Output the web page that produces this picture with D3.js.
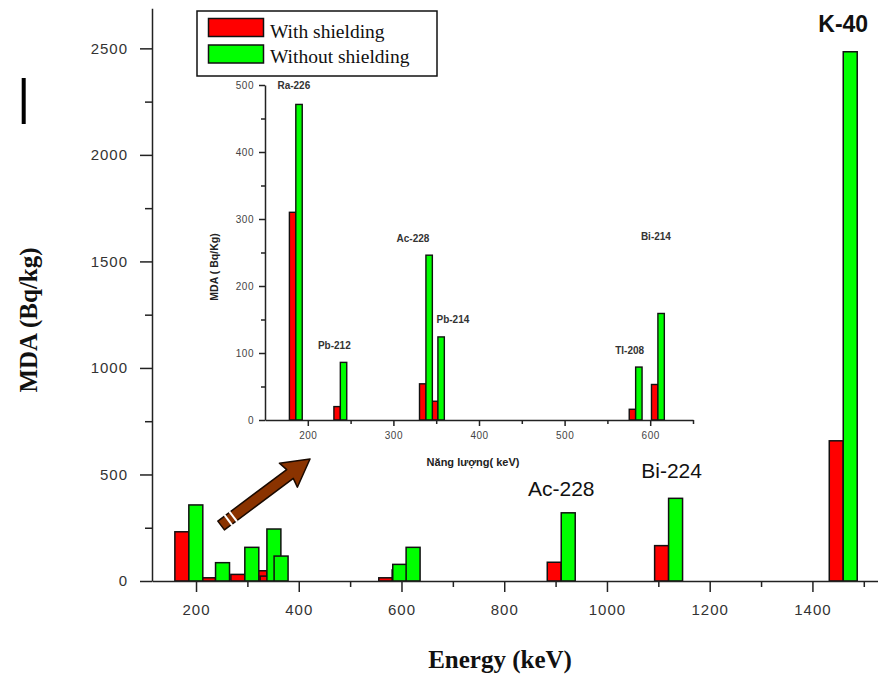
<!DOCTYPE html>
<html>
<head>
<meta charset="utf-8">
<script src="https://cdn.jsdelivr.net/npm/d3@7"></script>
<style>
  html, body { margin: 0; padding: 0; background: #fff; }
  svg { display: block; }
</style>
</head>
<body>
<svg id="chart" width="878" height="674"></svg>
<script>
// ---------- DATA ----------
// Main chart (energy in keV, MDA in Bq/kg)
const mainEnergies = [186, 238, 295, 338, 352, 583, 609, 911, 1120, 1460];
const mainWithShielding = [231, 15, 31, 48, 23, 15, 52, 88, 166, 658];
const mainWithoutShielding = [357, 86, 158, 244, 117, 78, 158, 320, 388, 2484];
const mainXTicks = [200, 400, 600, 800, 1000, 1200, 1400];
const mainYTicks = [0, 500, 1000, 1500, 2000, 2500];
const mainLabels = ["Ac-228", "Bi-224", "K-40"];

// Inset chart
const insetNuclides = ["Ra-226", "Pb-212", "Ac-228", "Pb-214", "Tl-208", "Bi-214"];
const insetEnergies = [186, 238, 338, 352, 583, 609];
const insetWithShielding = [310, 20, 54, 28, 16, 53];
const insetWithoutShielding = [471, 86, 246, 124, 79, 159];
const insetXTicks = [200, 300, 400, 500, 600];
const insetYTicks = [0, 100, 200, 300, 400, 500];

const seriesNames = ["With shielding", "Without shielding"];
const seriesColors = ["#ff0000", "#00ff00"];

// ---------- SETUP ----------
const svg = d3.select("#chart");
const fmt = d3.format("d");

// Main scales
const x = d3.scaleLinear().domain([114.3, 1530]).range([152, 879.2]);
const y = d3.scaleLinear().domain([0, 2688]).range([581, 8.3]);
const barW = 27.2; // keV

// stray mark at the top left
svg.append("line").attr("x1", 23.7).attr("x2", 23.7).attr("y1", 78).attr("y2", 124)
  .attr("stroke", "#000").attr("stroke-width", 4);

// Main bars: all reds first, then all greens
const gMain = svg.append("g");
gMain.selectAll("rect.red").data(mainEnergies).join("rect")
  .attr("x", (d) => x(d - barW))
  .attr("width", (d) => x(d) - x(d - barW))
  .attr("y", (d, i) => y(mainWithShielding[i]))
  .attr("height", (d, i) => y(0) - y(mainWithShielding[i]))
  .attr("fill", seriesColors[0]).attr("stroke", "#111").attr("stroke-width", 1.5);
gMain.selectAll("rect.green").data(mainEnergies).join("rect")
  .attr("x", (d) => x(d))
  .attr("width", (d) => x(d + barW) - x(d))
  .attr("y", (d, i) => y(mainWithoutShielding[i]))
  .attr("height", (d, i) => y(0) - y(mainWithoutShielding[i]))
  .attr("fill", seriesColors[1]).attr("stroke", "#111").attr("stroke-width", 1.5);

// Main axes
const axisColor = "#333";
const xAxisG = svg.append("g").attr("transform", `translate(0,${y(0)})`)
  .call(d3.axisBottom(x).tickValues(mainXTicks).tickFormat(fmt).tickSize(11).tickSizeOuter(0).tickPadding(12));
const xMinor = d3.range(300, 1530, 200);
svg.append("g").attr("transform", `translate(0,${y(0)})`)
  .call(d3.axisBottom(x).tickValues(xMinor).tickSize(6).tickFormat("").tickSizeOuter(0))
  .select(".domain").remove();
const yAxisG = svg.append("g").attr("transform", `translate(${x.range()[0]},0)`)
  .call(d3.axisLeft(y).tickValues(mainYTicks).tickFormat(fmt).tickSize(12).tickSizeOuter(0).tickPadding(12));
const yMinor = d3.range(250, 2688, 500);
svg.append("g").attr("transform", `translate(${x.range()[0]},0)`)
  .call(d3.axisLeft(y).tickValues(yMinor).tickSize(7).tickFormat("").tickSizeOuter(0))
  .select(".domain").remove();

svg.selectAll(".domain, .tick line").attr("stroke", axisColor).attr("stroke-width", 1.6);
[xAxisG, yAxisG].forEach(g => g.selectAll("text")
  .attr("font-family", "'Liberation Sans', Arial, sans-serif")
  .attr("font-size", 15).attr("fill", "#333").attr("letter-spacing", 1));

// Axis titles
svg.append("text").attr("x", 500).attr("y", 668).attr("text-anchor", "middle")
  .attr("font-family", "'Liberation Serif', 'Times New Roman', serif")
  .attr("font-weight", "bold").attr("font-size", 25).attr("fill", "#111")
  .text("Energy (keV)");
svg.append("text").attr("transform", "translate(37,320) rotate(-90)").attr("text-anchor", "middle")
  .attr("font-family", "'Liberation Serif', 'Times New Roman', serif")
  .attr("font-weight", "bold").attr("font-size", 25).attr("fill", "#111")
  .text("MDA (Bq/kg)");

// Main peak labels
const labelSpec = [
  { t: mainLabels[0], e: 911, v: 320, dx: 0, dy: -17, size: 21, w: "normal" },
  { t: mainLabels[1], e: 1120, v: 388, dx: 3, dy: -20, size: 21, w: "normal" },
  { t: mainLabels[2], e: 1460, v: 2484, dx: 0, dy: -20, size: 23, w: "bold" }
];
svg.selectAll("text.peak").data(labelSpec).join("text")
  .attr("x", d => x(d.e) + d.dx)
  .attr("y", d => y(d.v) + d.dy)
  .attr("text-anchor", "middle")
  .attr("font-family", "'Liberation Sans', Arial, sans-serif")
  .attr("font-size", d => d.size).attr("font-weight", d => d.w).attr("fill", "#111")
  .text(d => d.t);

// Arrow annotation
const arrow = svg.append("g").attr("transform", "translate(310,459) rotate(-36.8)");
arrow.append("path")
  .attr("d", "M0,0 L-27,-15 L-25,-5.5 L-111,-5.5 L-111,5.5 L-25,5.5 L-27,15 Z")
  .attr("fill", "#8a3300").attr("stroke", "#1a0a00").attr("stroke-width", 1.5)
  .attr("stroke-linejoin", "round");
[-102, -96].forEach(px => arrow.append("line").attr("x1", px).attr("x2", px)
  .attr("y1", -6.5).attr("y2", 6.5).attr("stroke", "#fff").attr("stroke-width", 2));

// ---------- INSET ----------
const xi = d3.scaleLinear().domain([150, 650]).range([265, 693]);
const yi = d3.scaleLinear().domain([0, 500]).range([420, 85]);
const barWi = 7.5;
const gIn = svg.append("g");
gIn.selectAll("rect.r").data(insetEnergies).join("rect")
  .attr("x", d => xi(d - barWi)).attr("width", d => xi(d) - xi(d - barWi))
  .attr("y", (d, i) => yi(insetWithShielding[i]))
  .attr("height", (d, i) => yi(0) - yi(insetWithShielding[i]))
  .attr("fill", seriesColors[0]).attr("stroke", "#111").attr("stroke-width", 1.4);
gIn.selectAll("rect.g").data(insetEnergies).join("rect")
  .attr("x", d => xi(d)).attr("width", d => xi(d + barWi) - xi(d))
  .attr("y", (d, i) => yi(insetWithoutShielding[i]))
  .attr("height", (d, i) => yi(0) - yi(insetWithoutShielding[i]))
  .attr("fill", seriesColors[1]).attr("stroke", "#111").attr("stroke-width", 1.4);

const ixAxis = svg.append("g").attr("transform", `translate(0,${yi(0)})`)
  .call(d3.axisBottom(xi).tickValues(insetXTicks).tickSize(6).tickSizeOuter(0).tickPadding(6));
svg.append("g").attr("transform", `translate(0,${yi(0)})`)
  .call(d3.axisBottom(xi).tickValues(d3.range(250, 651, 100)).tickSize(4).tickFormat("").tickSizeOuter(0))
  .select(".domain").remove();
const iyAxis = svg.append("g").attr("transform", `translate(${xi.range()[0]},0)`)
  .call(d3.axisLeft(yi).tickValues(insetYTicks).tickSize(6).tickSizeOuter(0).tickPadding(5));
svg.append("g").attr("transform", `translate(${xi.range()[0]},0)`)
  .call(d3.axisLeft(yi).tickValues(d3.range(50, 500, 100)).tickSize(4).tickFormat("").tickSizeOuter(0))
  .select(".domain").remove();
[ixAxis, iyAxis].forEach(g => {
  g.selectAll("text").attr("font-family", "'Liberation Sans', Arial, sans-serif")
    .attr("font-size", 10).attr("fill", "#444").attr("letter-spacing", 0.5);
});
svg.selectAll(".domain, .tick line").attr("stroke", "#222").attr("stroke-width", 1.5);

// Inset peak labels
const insetLabelOffsets = [[-2, -15], [-6, -13], [-13, -13], [15, -14], [-6, -13], [-2, -73]];
svg.selectAll("text.il").data(insetNuclides).join("text")
  .attr("x", (d, i) => xi(insetEnergies[i]) + insetLabelOffsets[i][0])
  .attr("y", (d, i) => yi(insetWithoutShielding[i]) + insetLabelOffsets[i][1])
  .attr("text-anchor", "middle")
  .attr("font-family", "'Liberation Sans', Arial, sans-serif")
  .attr("font-size", 10).attr("font-weight", "bold").attr("fill", "#333")
  .text(d => d);

// Inset axis titles
svg.append("text").attr("transform", "translate(218,267) rotate(-90)").attr("text-anchor", "middle")
  .attr("font-family", "'Liberation Sans', Arial, sans-serif")
  .attr("font-size", 10.5).attr("font-weight", "bold").attr("fill", "#222")
  .text("MDA (  Bq/Kg)");
svg.append("text").attr("x", 473).attr("y", 466).attr("text-anchor", "middle")
  .attr("font-family", "'Liberation Sans', Arial, sans-serif")
  .attr("font-size", 11).attr("font-weight", "bold").attr("fill", "#222")
  .text("Năng lượng(  keV)");

// ---------- LEGEND ----------
const leg = svg.append("g");
leg.append("rect").attr("x", 197).attr("y", 11).attr("width", 240).attr("height", 65)
  .attr("fill", "#fff").attr("stroke", "#111").attr("stroke-width", 1.5);
seriesNames.forEach((name, i) => {
  leg.append("rect").attr("x", 208.5).attr("y", 18.5 + i * 26.5).attr("width", 55).attr("height", 18)
    .attr("fill", seriesColors[i]).attr("stroke", "#111").attr("stroke-width", 1.5);
  leg.append("text").attr("x", 270).attr("y", 38 + i * 25)
    .attr("font-family", "'Liberation Serif', 'Times New Roman', serif")
    .attr("font-size", 19.5).attr("fill", "#111").text(name);
});
</script>
</body>
</html>
